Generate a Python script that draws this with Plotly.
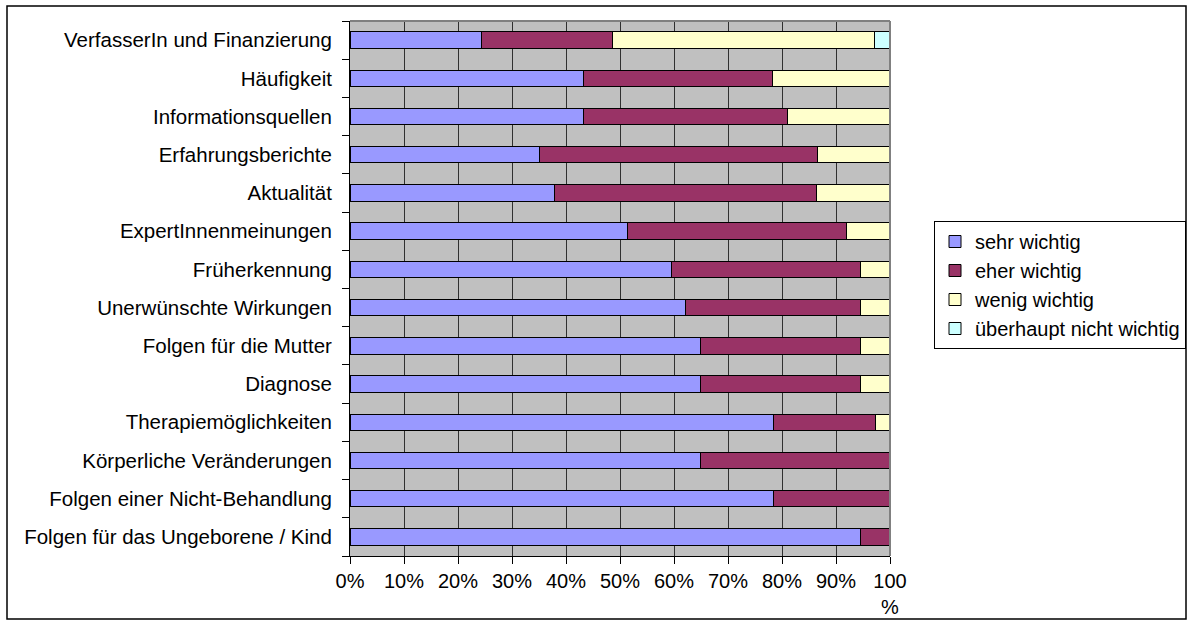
import plotly.graph_objects as go

# Categories, top to bottom
categories = [
    "VerfasserIn und Finanzierung",
    "Häufigkeit",
    "Informationsquellen",
    "Erfahrungsberichte",
    "Aktualität",
    "ExpertInnenmeinungen",
    "Früherkennung",
    "Unerwünschte Wirkungen",
    "Folgen für die Mutter",
    "Diagnose",
    "Therapiemöglichkeiten",
    "Körperliche Veränderungen",
    "Folgen einer Nicht-Behandlung",
    "Folgen für das Ungeborene / Kind",
]

# Percent shares
sehr_wichtig = [24.3, 43.2, 43.2, 35.1, 37.8, 51.4, 59.5, 62.2, 64.9, 64.9, 78.4, 64.9, 78.4, 94.6]
eher_wichtig = [24.3, 35.1, 37.8, 51.4, 48.6, 40.5, 35.1, 32.4, 29.7, 29.7, 18.9, 35.1, 21.6, 5.4]
wenig_wichtig = [48.6, 21.6, 18.9, 13.5, 13.5, 8.1, 5.4, 5.4, 5.4, 5.4, 2.7, 0, 0, 0]
ueberhaupt_nicht = [2.7, 0, 0, 0, 0, 0, 0, 0, 0, 0, 0, 0, 0, 0]

series_names = ["sehr wichtig", "eher wichtig", "wenig wichtig", "überhaupt nicht wichtig"]
series_values = [sehr_wichtig, eher_wichtig, wenig_wichtig, ueberhaupt_nicht]
series_colors = ["#9999FF", "#993366", "#FFFFCC", "#CCFFFF"]

x_tick_vals = [0, 10, 20, 30, 40, 50, 60, 70, 80, 90, 100]
x_tick_text = ["0%", "10%", "20%", "30%", "40%", "50%", "60%", "70%", "80%", "90%", "100<br>%"]

positions = list(range(len(categories)))

fig = go.Figure()
for name, vals, col in zip(series_names, series_values, series_colors):
    fig.add_trace(go.Bar(
        y=positions, x=vals, name=name, orientation="h", legendgroup=name,
        marker=dict(color=col, line=dict(color="black", width=1)),
        width=0.43,
    ))

W, H = 1192, 621
L, R, T, B = 350, 302, 21, 65
pw, ph = W - L - R, H - T - B

def px_x(p):
    return (p - L) / pw

def px_y(p):
    return (H - B - p) / ph

font = "Liberation Sans, Arial, sans-serif"

fig.update_layout(
    width=W, height=H,
    margin=dict(l=L, r=R, t=T, b=B, autoexpand=False),
    barmode="stack",
    plot_bgcolor="#C0C0C0",
    paper_bgcolor="white",
    font=dict(family=font, size=20.5, color="black"),
    showlegend=True,
    legend=dict(
        x=px_x(934), y=px_y(221), xanchor="left", yanchor="top",
        bordercolor="black", borderwidth=1, bgcolor="white",
        traceorder="normal", tracegroupgap=3, font=dict(size=20),
    ),
    xaxis=dict(
        range=[0, 100], tickvals=x_tick_vals, ticktext=x_tick_text,
        showgrid=True, gridcolor="#303030", gridwidth=1,
        showline=True, linecolor="black", linewidth=1,
        ticks="outside", ticklen=7, tickcolor="black", ticklabelstandoff=0,
        tickfont=dict(size=20),
        zeroline=False, fixedrange=True,
    ),
    yaxis=dict(
        range=[len(categories) - 0.5, -0.5],
        tickvals=positions, ticktext=categories,
        showgrid=False, zeroline=False,
        showline=True, linecolor="black", linewidth=1,
        ticks="", ticklabelstandoff=13,
        minor=dict(tickvals=[i - 0.5 for i in range(len(categories) + 1)],
                   ticks="outside", ticklen=7, tickcolor="black", showgrid=False),
    ),
    shapes=[
        dict(type="line", xref="paper", yref="paper", x0=0, x1=1, y0=1, y1=1,
             line=dict(color="#808080", width=2)),
        dict(type="line", xref="paper", yref="paper", x0=1, x1=1, y0=0, y1=1,
             line=dict(color="#808080", width=2)),
        dict(type="rect", xref="paper", yref="paper",
             x0=px_x(7), x1=px_x(1186), y0=px_y(619), y1=px_y(6),
             line=dict(color="black", width=1.5)),
    ],
)

fig.write_html("out.html")
